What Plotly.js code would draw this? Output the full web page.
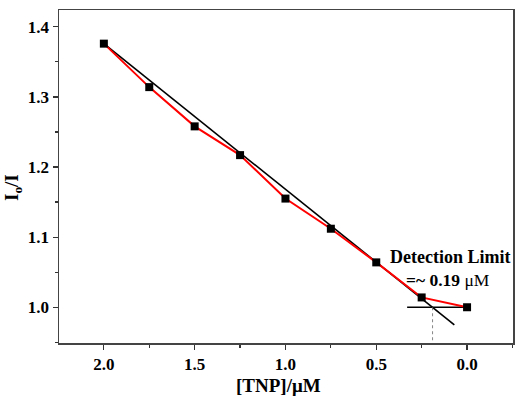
<!DOCTYPE html>
<html><head><meta charset="utf-8">
<script src="https://cdn.plot.ly/plotly-3.0.1.min.js"></script>
<style>html,body{margin:0;padding:0;background:#fff}#chart{width:522px;height:398px}</style>
</head><body><div id="chart"></div>
<script>
const tnp = [2.0, 1.75, 1.5, 1.25, 1.0, 0.75, 0.5, 0.25, 0.0];
const ratio = [1.376, 1.314, 1.258, 1.217, 1.155, 1.112, 1.064, 1.014, 1.0];
const fitX = [2.0, 0.07];
const fitY = [1.376, 0.975];
const baseX = [0.33, 0.0];
const baseY = [1.0, 1.0];
const lodX = [0.19, 0.19];
const lodY = [1.0, 0.95];
const xTicks = [2.0, 1.5, 1.0, 0.5, 0.0];
const xTickText = ['2.0', '1.5', '1.0', '0.5', '0.0'];
const yTicks = [1.0, 1.1, 1.2, 1.3, 1.4];
const yTickText = ['1.0', '1.1', '1.2', '1.3', '1.4'];

const fam = '"Liberation Serif", "Times New Roman", serif';
const traces = [
  {x: fitX, y: fitY, mode: 'lines', line: {color: '#000', width: 1.6}, hoverinfo: 'skip'},
  {x: baseX, y: baseY, mode: 'lines', line: {color: '#000', width: 1.6}, hoverinfo: 'skip'},
  {x: lodX, y: lodY, mode: 'lines', line: {color: '#666', width: 0.8, dash: 'dot'}, hoverinfo: 'skip'},
  {x: tnp, y: ratio, mode: 'lines+markers', line: {color: '#ff0000', width: 2},
   marker: {symbol: 'square', size: 8, color: '#000'}}
];
const layout = {
  width: 522, height: 398,
  margin: {l: 59, r: 9, t: 10, b: 55},
  paper_bgcolor: '#fff', plot_bgcolor: '#fff',
  showlegend: false,
  font: {family: fam, color: '#000'},
  xaxis: {
    range: [2.247, -0.253], tickvals: xTicks, ticktext: xTickText,
    ticks: 'outside', ticklen: 5, tickwidth: 1.2, tickcolor: '#333',
    minor: {dtick: 0.25, ticks: 'outside', ticklen: 3, tickwidth: 1.2, tickcolor: '#333', showgrid: false},
    showline: true, linecolor: '#444', linewidth: 1.5, mirror: true,
    showgrid: false, zeroline: false,
    tickfont: {family: fam, size: 17, color: '#000', weight: 'bold'}
  },
  yaxis: {
    range: [0.949, 1.424], tickvals: yTicks, ticktext: yTickText,
    ticks: 'outside', ticklen: 5, tickwidth: 1.2, tickcolor: '#333',
    minor: {dtick: 0.05, ticks: 'outside', ticklen: 3, tickwidth: 1.2, tickcolor: '#333', showgrid: false},
    showline: true, linecolor: '#444', linewidth: 1.5, mirror: true,
    showgrid: false, zeroline: false,
    tickfont: {family: fam, size: 17, color: '#000', weight: 'bold'}
  },
  annotations: [
    {x: 278, y: 385, xref: 'paper', yref: 'paper', text: '<b>[TNP]/μM</b>', showarrow: false,
     xanchor: 'center', yanchor: 'middle',
     font: {family: fam, size: 19, color: '#000'}},
    {x: 13, y: 188, xref: 'paper', yref: 'paper', text: '<b>I<sub>o</sub>/I</b>', showarrow: false, textangle: -90,
     xanchor: 'center', yanchor: 'middle',
     font: {family: fam, size: 19, color: '#000'}},
    {x: 0.093, y: 1.071, xref: 'x', yref: 'y', text: '<b>Detection Limit</b>', showarrow: false,
     xanchor: 'center', yanchor: 'middle',
     font: {family: fam, size: 18, color: '#000'}},
    {x: 0.104, y: 1.039, xref: 'x', yref: 'y', text: '<b>=~ 0.19</b> μM', showarrow: false,
     xanchor: 'center', yanchor: 'middle',
     font: {family: fam, size: 17.5, color: '#000'}}
  ]
};
// convert paper-pixel annotation positions to paper fractions
const pw = layout.width - layout.margin.l - layout.margin.r;
const ph = layout.height - layout.margin.t - layout.margin.b;
layout.annotations.forEach(a => {
  if (a.xref === 'paper') {
    a.x = (a.x - layout.margin.l) / pw;
    a.y = (layout.height - layout.margin.b - a.y) / ph;
  }
});
Plotly.newPlot('chart', traces, layout, {displayModeBar: false, staticPlot: true});
</script></body></html>
